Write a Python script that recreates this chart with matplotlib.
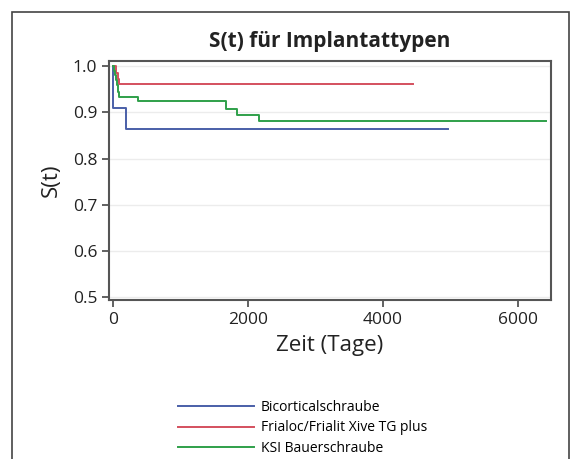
import matplotlib
matplotlib.use("Agg")
import matplotlib.pyplot as plt
from matplotlib.patches import Rectangle

plt.rcParams['font.family'] = ['Open Sans', 'DejaVu Sans']

# Kaplan-Meier step data (time in days, survival)
bico_t = [0, 5, 195, 4960]
bico_s = [1.0, 0.909, 0.864, 0.864]

fria_t = [0, 50, 70, 85, 4440]
fria_s = [1.0, 0.985, 0.972, 0.961, 0.961]

ksi_t = [0, 10, 25, 40, 55, 70, 89, 366, 1670, 1833, 2163, 6415]
ksi_s = [1.0, 0.99, 0.98, 0.97, 0.96, 0.945, 0.934, 0.924, 0.908, 0.895, 0.881, 0.881]

names = ["Bicorticalschraube", "Frialoc/Frialit Xive TG plus", "KSI Bauerschraube"]
colors = ["#4a5fa8", "#d4505e", "#2fa04a"]

x_ticks = [0, 2000, 4000, 6000]
y_ticks = [0.5, 0.6, 0.7, 0.8, 0.9, 1.0]

fig = plt.figure(figsize=(5.74, 4.59), dpi=100)
ax = fig.add_axes([0.19, 0.346, 0.77, 0.521])

series = [(bico_t, bico_s), (fria_t, fria_s), (ksi_t, ksi_s)]
handles = []
for (t, s), name, c in zip(series, names, colors):
    h, = ax.step(t, s, where='post', color=c, lw=1.4, label=name)
    handles.append(h)

ax.set_xlim(-60, 6490)
ax.set_ylim(0.494, 1.011)
ax.set_xticks(x_ticks)
ax.set_yticks(y_ticks)
ax.set_yticklabels([f"{v:.1f}" for v in y_ticks])
ax.yaxis.grid(True, color='#ececec', lw=1)
ax.set_axisbelow(True)
for sp in ax.spines.values():
    sp.set_color('#555555')
    sp.set_linewidth(1.5)
ax.tick_params(colors='#555555', labelcolor='#222222', labelsize=12.5, width=1.3, length=5)

ax.set_xlabel("Zeit (Tage)", fontsize=16, color='#222222', labelpad=5)
ax.set_ylabel("S(t)", fontsize=16, color='#222222', labelpad=8)
ax.set_title("S(t) für Implantattypen", fontsize=15, fontweight='bold', color='#222222', pad=10)

fig.legend(handles=handles, labels=names, loc='upper left', bbox_to_anchor=(0.30, 0.1405),
           frameon=False, fontsize=10, handlelength=5.5, handletextpad=0.5, labelspacing=0.39,
           borderaxespad=0)

# outer frame
fig.patches.append(Rectangle((12 / 574, -0.1), 557 / 574, 1.1 - 12 / 459, transform=fig.transFigure,
                             fill=False, edgecolor='#444444', lw=1.2))

fig.savefig("out.png", dpi=100)
